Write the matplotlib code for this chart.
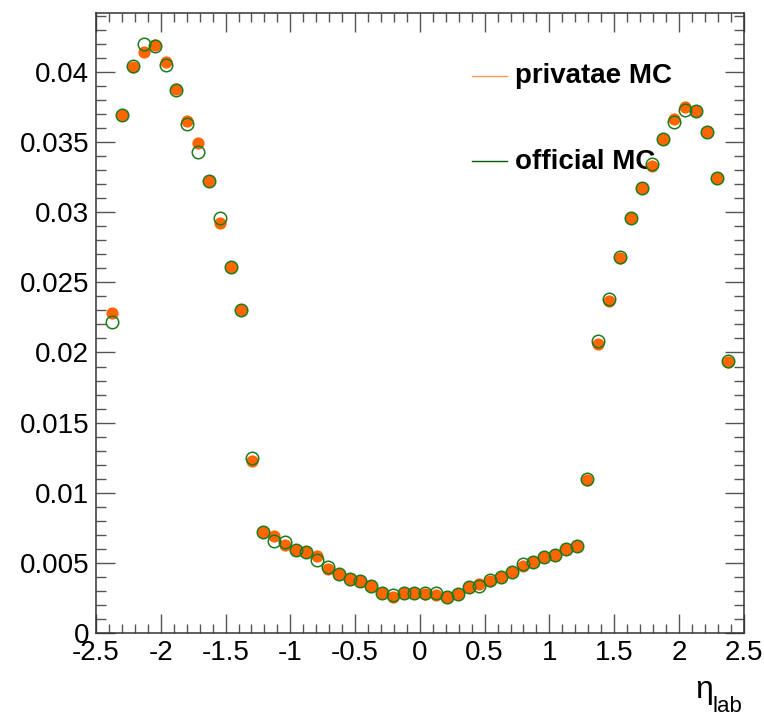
import matplotlib
matplotlib.use("Agg")
import matplotlib.pyplot as plt
from matplotlib.ticker import MultipleLocator, FuncFormatter
from matplotlib.lines import Line2D

# bin centres in eta_lab
eta = [-2.380, -2.296, -2.213, -2.129, -2.046, -1.962, -1.879, -1.795, -1.712, -1.628,
       -1.545, -1.461, -1.378, -1.294, -1.211, -1.127, -1.044, -0.960, -0.877, -0.793,
       -0.710, -0.626, -0.543, -0.459, -0.376, -0.292, -0.209, -0.125, -0.042,
       0.042, 0.125, 0.209, 0.292, 0.376, 0.459, 0.543, 0.626, 0.710, 0.793,
       0.877, 0.960, 1.044, 1.127, 1.211, 1.294, 1.378, 1.461, 1.545, 1.628,
       1.712, 1.795, 1.879, 1.962, 2.046, 2.129, 2.213, 2.296, 2.380]

private_mc = [0.0228, 0.0369, 0.0403, 0.0414, 0.0419, 0.0407, 0.0388, 0.0365, 0.0349, 0.0322,
              0.0292, 0.0261, 0.0230, 0.0123, 0.0072, 0.0069, 0.0063, 0.0059, 0.0058, 0.0055,
              0.0046, 0.0042, 0.0039, 0.0037, 0.0034, 0.0029, 0.0026, 0.0029, 0.0029,
              0.0028, 0.0027, 0.0026, 0.0028, 0.0033, 0.0035, 0.0037, 0.0040, 0.0044, 0.0048,
              0.0051, 0.0054, 0.0056, 0.0060, 0.0062, 0.0109, 0.0206, 0.0237, 0.0267, 0.0296,
              0.0317, 0.0333, 0.0352, 0.0366, 0.0375, 0.0372, 0.0357, 0.0324, 0.0193]

official_mc = [0.0222, 0.0369, 0.0404, 0.0420, 0.0418, 0.0405, 0.0387, 0.0363, 0.0343, 0.0322,
               0.0296, 0.0261, 0.0230, 0.0125, 0.0072, 0.0066, 0.0065, 0.0059, 0.0058, 0.0052,
               0.0047, 0.0042, 0.0039, 0.0037, 0.0034, 0.0029, 0.0027, 0.0029, 0.0029,
               0.0029, 0.0029, 0.0026, 0.0028, 0.0033, 0.0034, 0.0038, 0.0040, 0.0044, 0.0049,
               0.0051, 0.0054, 0.0056, 0.0060, 0.0062, 0.0110, 0.0208, 0.0238, 0.0268, 0.0296,
               0.0317, 0.0334, 0.0352, 0.0364, 0.0373, 0.0372, 0.0357, 0.0324, 0.0194]

orange = "#ff6600"
green = "#1e7a1e"

plt.rcParams['font.family'] = ['Liberation Sans', 'DejaVu Sans']

fig = plt.figure(figsize=(7.64, 7.19), dpi=100)
ax = fig.add_axes([0.1257, 0.1192, 0.8477, 0.8631])

ax.plot(eta, private_mc, ls="", marker="o", markersize=8.8, color=orange,
        markeredgewidth=0, zorder=3)
ax.plot(eta, official_mc, ls="", marker="o", markersize=9.0, markerfacecolor="none",
        markeredgecolor=green, markeredgewidth=1.1, zorder=4)

ax.set_xlim(-2.5, 2.5)
ax.set_ylim(0, 0.0442)

ax.xaxis.set_major_locator(MultipleLocator(0.5))
ax.xaxis.set_minor_locator(MultipleLocator(0.1))
ax.yaxis.set_major_locator(MultipleLocator(0.005))
ax.yaxis.set_minor_locator(MultipleLocator(0.001))
ax.xaxis.set_major_formatter(FuncFormatter(lambda v, p: "%g" % round(v, 3)))
ax.yaxis.set_major_formatter(FuncFormatter(lambda v, p: "%g" % round(v, 4)))

ax.tick_params(which="both", direction="in", top=True, right=True,
               color="#555555", labelsize=20)
ax.tick_params(axis="x", which="major", length=13.4, width=1.0, pad=5)
ax.tick_params(axis="x", which="minor", length=6.7, width=1.0)
ax.tick_params(axis="y", which="major", length=14, width=1.0, pad=5)
ax.tick_params(axis="y", which="minor", length=7, width=1.0)
for s in ax.spines.values():
    s.set_linewidth(1.1)
    s.set_color("#333333")

# legend in ROOT style: short line + bold text
ax.add_line(Line2D([0.580, 0.634], [0.898, 0.898], transform=ax.transAxes,
                   color="#ff9955", lw=1.0))
ax.add_line(Line2D([0.580, 0.634], [0.761, 0.761], transform=ax.transAxes,
                   color="#0a5a0a", lw=1.0))
ax.text(0.647, 0.886, "privatae MC", transform=ax.transAxes, fontsize=20,
        fontweight="bold", va="baseline", ha="left")
ax.text(0.647, 0.7477, "official MC", transform=ax.transAxes, fontsize=20,
        fontweight="bold", va="baseline", ha="left", zorder=2)

# axis title eta_lab at bottom right
fig.text(695 / 764, 1 - 698 / 719, "η", fontsize=23, ha="left", va="baseline")
fig.text(713 / 764, 1 - 712 / 719, "lab", fontsize=16, ha="left", va="baseline")

fig.savefig("out.png", dpi=100)
